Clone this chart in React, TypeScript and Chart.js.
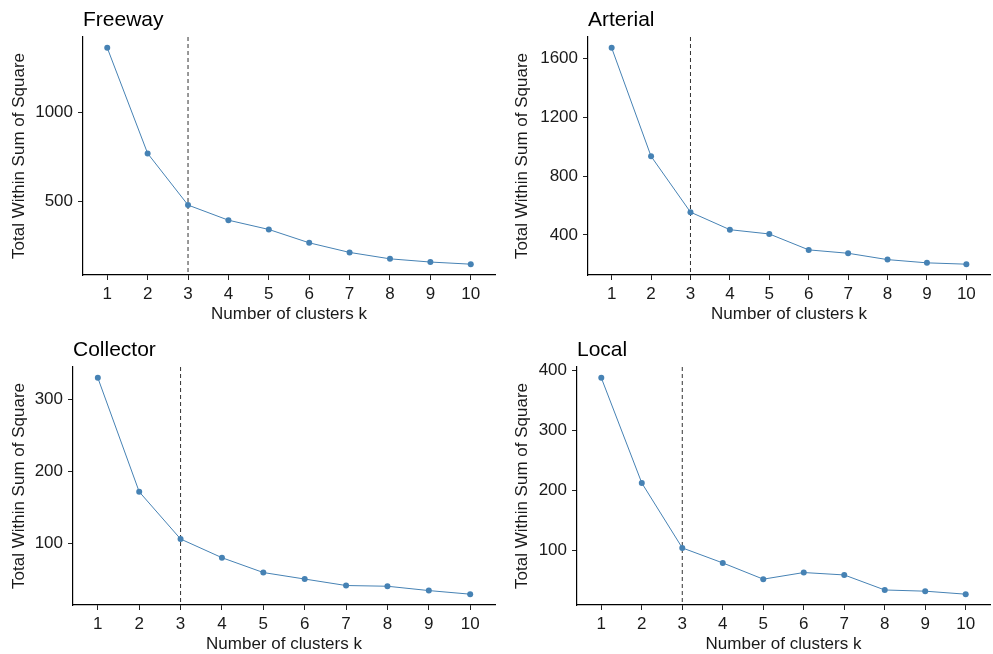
import React, { useEffect, useRef } from "react";
import { Chart, registerables } from "chart.js";

Chart.register(...registerables);

// ---- Data ----
const kValues = [1, 2, 3, 4, 5, 6, 7, 8, 9, 10];
const freewayWSS = [1362, 769, 479, 394, 342, 267, 213, 177, 159, 147];
const arterialWSS = [1670, 934, 555, 436, 407, 299, 276, 233, 211, 202];
const collectorWSS = [330, 172, 106.5, 80.6, 60, 51, 42, 41, 35, 30];
const localWSS = [387, 212, 104, 79, 52, 63, 59, 34, 32, 27];
const freewayTicks = [500, 1000];
const arterialTicks = [400, 800, 1200, 1600];
const collectorTicks = [100, 200, 300];
const localTicks = [100, 200, 300, 400];
const optimalK = 3;
const xTitle = "Number of clusters k";
const yTitle = "Total Within Sum of Square";

// ---- Style ----
const FONT = "'Liberation Sans', Arial, Helvetica, sans-serif";
const STEEL = "#4682B4";
const TEXT = "#1a1a1a";
const H = 330;
const PLOT_TOP = 37;
const PLOT_BOTTOM = 275;

type PanelProps = {
  title: string;
  values: number[];
  ticks: number[];
  left: number;
  top: number;
  width: number;
  plotLeft: number;
  plotRight: number;
  padLeft: number;
};

function Panel(p: PanelProps) {
  const ref = useRef<HTMLCanvasElement | null>(null);
  useEffect(() => {
    if (!ref.current) return;
    const lo = Math.min(...p.values);
    const hi = Math.max(...p.values);
    const span = hi - lo;
    const yMin = lo - 0.05 * span;
    const yMax = hi + 0.05 * span;
    const xMin = kValues[0] - 0.6;
    const xMax = kValues[kValues.length - 1] + 0.6;

    const titlePlugin = {
      id: "panelTitle",
      afterDraw(chart: any) {
        const ctx = chart.ctx;
        ctx.save();
        ctx.font = `21px ${FONT}`;
        ctx.fillStyle = "#000";
        ctx.textAlign = "left";
        ctx.textBaseline = "alphabetic";
        ctx.fillText(p.title, chart.chartArea.left, 26);
        ctx.restore();
      },
    };

    const axisCommon = {
      grid: {
        display: true,
        drawOnChartArea: false,
        drawTicks: true,
        tickLength: 5,
        color: "#222",
        lineWidth: 1,
      },
      border: { display: true, color: "#000", width: 1.2 },
    };

    const chart = new Chart(ref.current, {
      type: "line",
      data: {
        datasets: [
          {
            data: kValues.map((k, i) => ({ x: k, y: p.values[i] })),
            borderColor: STEEL,
            backgroundColor: STEEL,
            borderWidth: 1,
            pointRadius: 3,
            pointBorderWidth: 0,
            pointHoverRadius: 3,
            tension: 0,
          },
          {
            data: [
              { x: optimalK, y: yMax },
              { x: optimalK, y: yMin },
            ],
            borderColor: "#333",
            borderWidth: 1,
            borderDash: [4, 3],
            pointRadius: 0,
            pointHoverRadius: 0,
          },
        ],
      },
      options: {
        animation: false,
        responsive: false,
        maintainAspectRatio: false,
        events: [],
        layout: {
          padding: { left: p.padLeft, top: PLOT_TOP, right: p.width - p.plotRight, bottom: 0 },
        },
        plugins: {
          legend: { display: false },
          tooltip: { enabled: false },
          title: { display: false },
        },
        scales: {
          x: {
            type: "linear",
            min: xMin,
            max: xMax,
            afterBuildTicks: (s: any) => {
              s.ticks = kValues.map((v) => ({ value: v }));
            },
            afterFit: (s: any) => {
              s.height = H - PLOT_BOTTOM;
            },
            ...axisCommon,
            ticks: {
              font: { family: FONT, size: 17 },
              color: TEXT,
              padding: 4,
              maxRotation: 0,
              autoSkip: false,
              callback: (v: any) => String(v),
            },
            title: {
              display: true,
              text: xTitle,
              font: { family: FONT, size: 17 },
              color: TEXT,
              padding: { top: 0, bottom: 5 },
            },
          },
          y: {
            type: "linear",
            min: yMin,
            max: yMax,
            afterBuildTicks: (s: any) => {
              s.ticks = p.ticks.map((v) => ({ value: v }));
            },
            afterFit: (s: any) => {
              s.width = p.plotLeft - p.padLeft;
            },
            ...axisCommon,
            ticks: {
              font: { family: FONT, size: 17 },
              color: TEXT,
              padding: 5,
              autoSkip: false,
              callback: (v: any) => String(v),
            },
            title: {
              display: true,
              text: yTitle,
              font: { family: FONT, size: 17 },
              color: TEXT,
              padding: { top: 0, bottom: 0 },
            },
          },
        },
      } as any,
      plugins: [titlePlugin],
    });
    return () => chart.destroy();
  }, []);

  return (
    <canvas
      ref={ref}
      width={p.width}
      height={H}
      style={{ position: "absolute", left: p.left, top: p.top, width: p.width, height: H }}
    />
  );
}

export default function App() {
  return (
    <div
      style={{
        position: "absolute",
        left: 0,
        top: 0,
        width: 993,
        height: 654,
        overflow: "hidden",
        background: "#fff",
      }}
    >
      <Panel title="Freeway" values={freewayWSS} ticks={freewayTicks} left={0} top={0} width={500} plotLeft={83} plotRight={495} padLeft={9} />
      <Panel title="Arterial" values={arterialWSS} ticks={arterialTicks} left={500} top={0} width={493} plotLeft={88} plotRight={493} padLeft={12} />
      <Panel title="Collector" values={collectorWSS} ticks={collectorTicks} left={0} top={330} width={500} plotLeft={73} plotRight={495} padLeft={9} />
      <Panel title="Local" values={localWSS} ticks={localTicks} left={500} top={330} width={493} plotLeft={77} plotRight={493} padLeft={12} />
    </div>
  );
}
